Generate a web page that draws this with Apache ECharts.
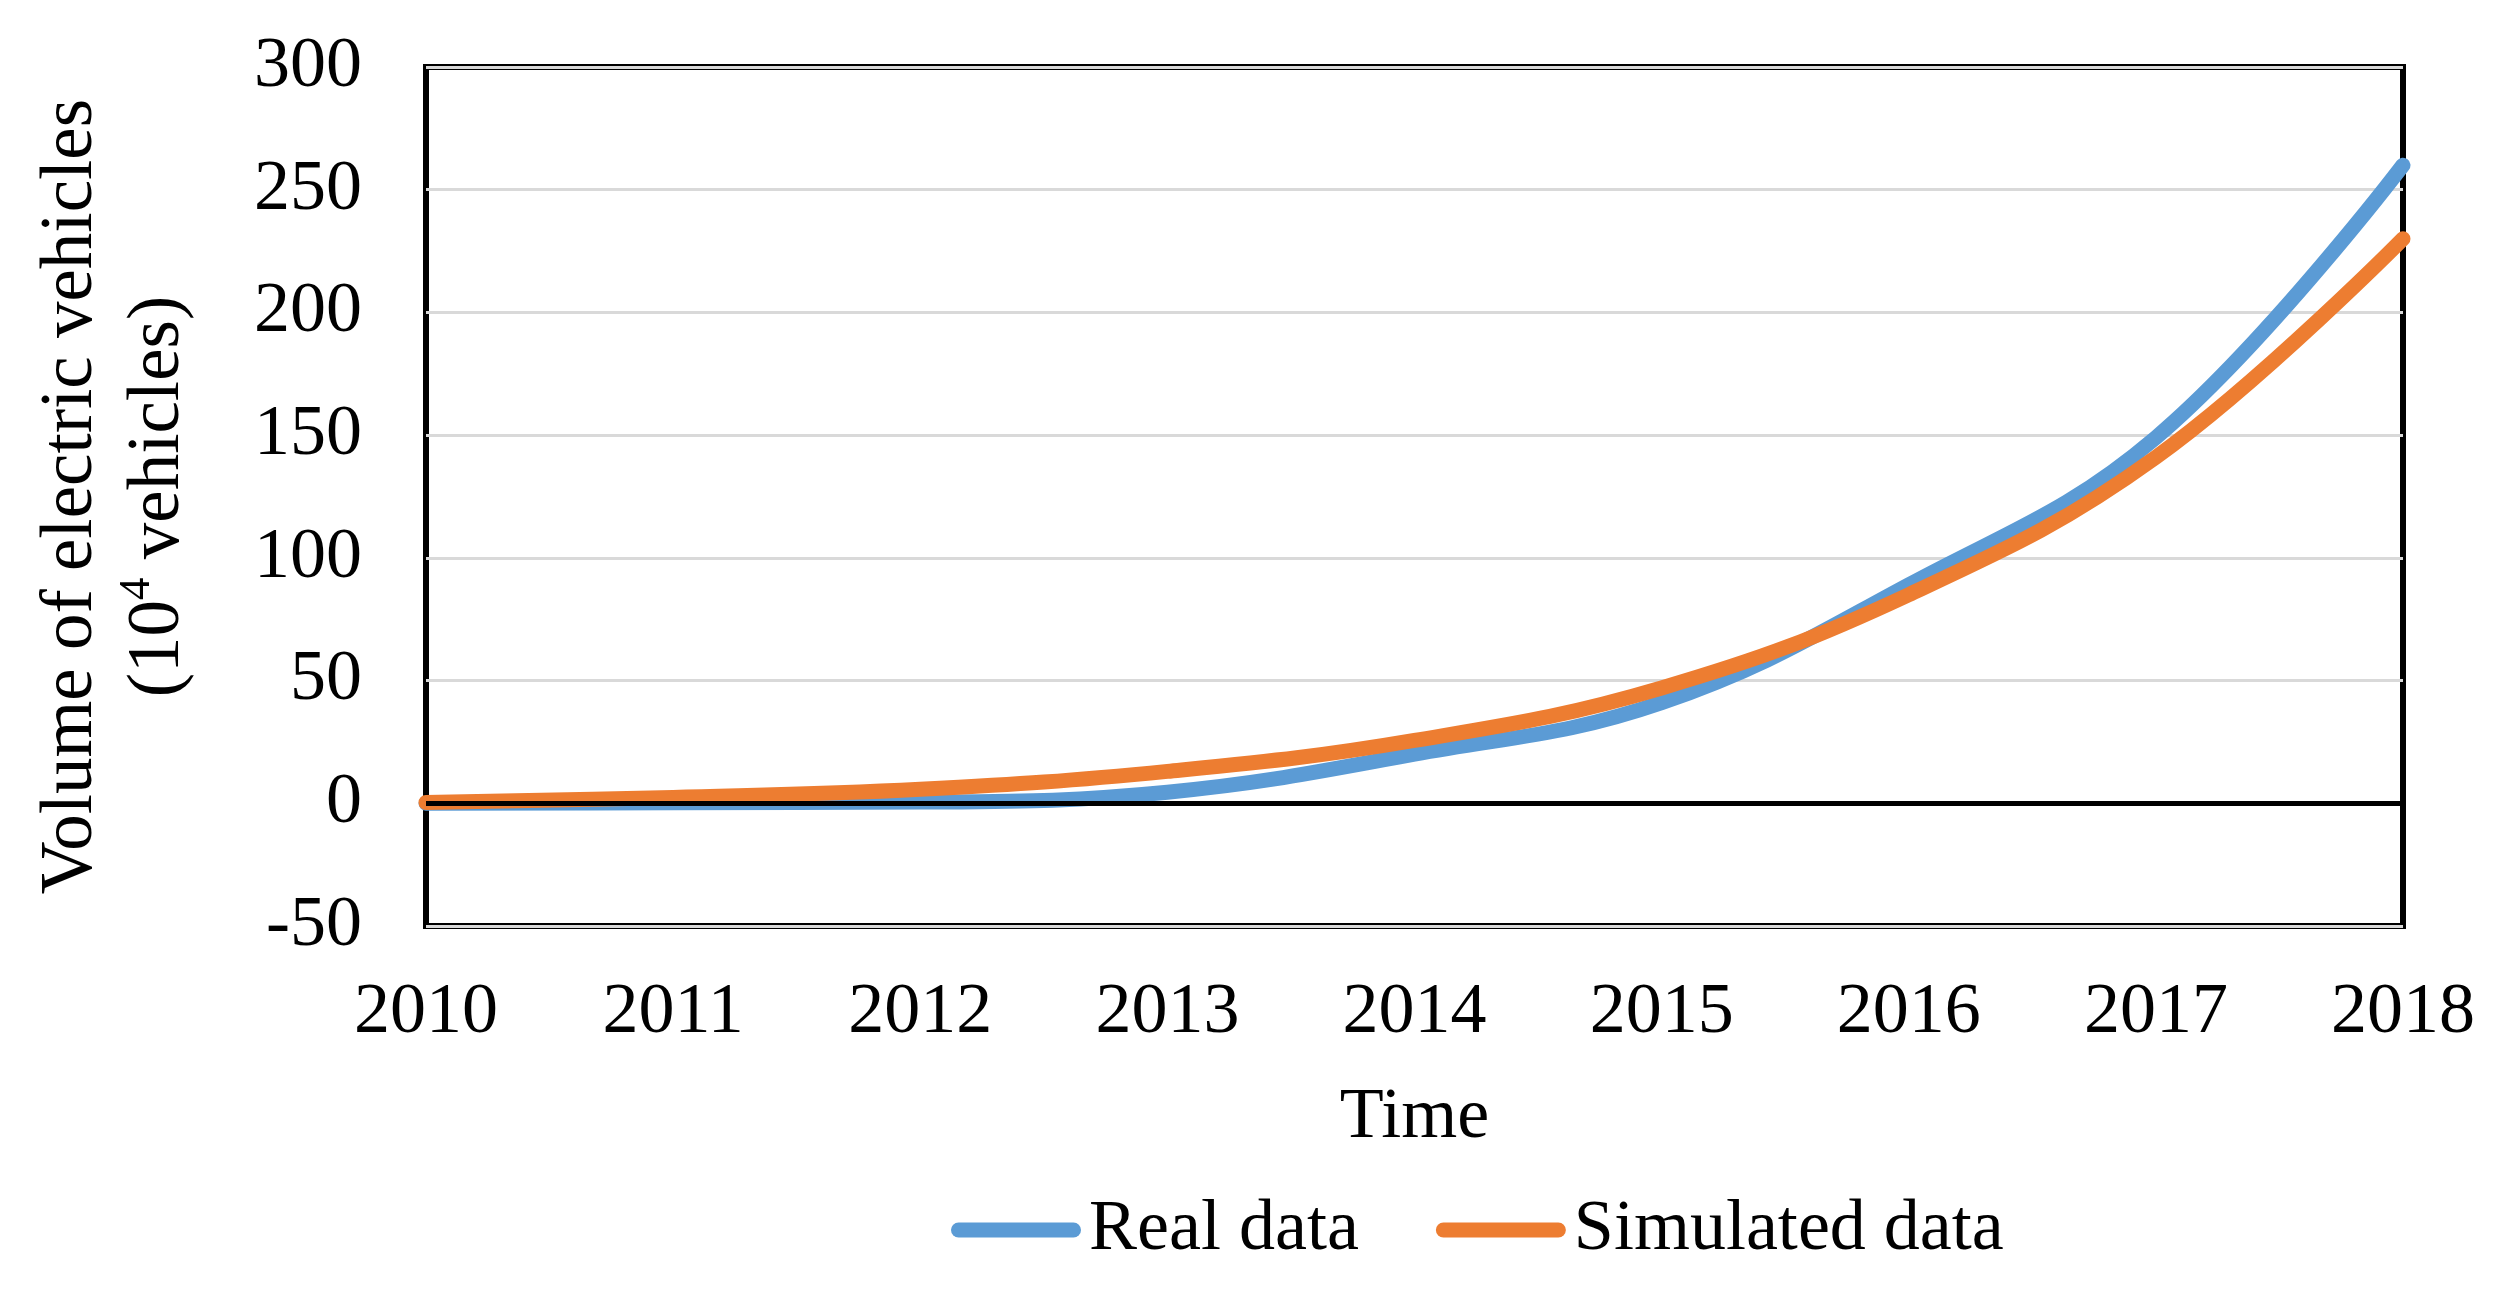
<!DOCTYPE html>
<html>
<head>
<meta charset="utf-8">
<script src="https://cdn.jsdelivr.net/npm/echarts@6/dist/echarts.min.js"></script>
<style>
html,body{margin:0;padding:0;background:#fff;}
#chart{width:2513px;height:1304px;}
</style>
</head>
<body>
<div id="chart"></div>
<script>
const years = ['2010','2011','2012','2013','2014','2015','2016','2017','2018'];
const realData = [0, 0.2, 0.5, 4.5, 20, 41, 89, 149, 260];
const simulatedData = [0.3, 2.4, 5.7, 13, 25.6, 47, 85, 141, 230];
const yTicks = {min: -50, max: 300, interval: 50};

const FONT = '"Liberation Serif", "Times New Roman", serif';
const chart = echarts.init(document.getElementById('chart'));
const capsule = 'path://M7.5,0 L122.5,0 A7.5,7.5 0 0 1 122.5,15 L7.5,15 A7.5,7.5 0 0 1 7.5,0 Z';

chart.setOption({
  backgroundColor: '#ffffff',
  animation: false,
  grid: {
    left: 426, right: 110, top: 67, bottom: 378,
    show: true, borderColor: '#000', borderWidth: 6, backgroundColor: 'transparent'
  },
  legend: {
    left: 946, top: 1189,
    itemWidth: 130, itemHeight: 15, itemGap: 77,
    textStyle: {fontFamily: FONT, fontSize: 72, color: '#000', padding: [0,0,0,3]},
    data: [
      {name: 'Real data', icon: capsule},
      {name: 'Simulated data', icon: capsule}
    ]
  },
  xAxis: {
    type: 'category',
    data: years,
    boundaryGap: false,
    name: 'Time',
    nameLocation: 'middle',
    nameGap: 156,
    nameTextStyle: {fontFamily: FONT, fontSize: 72, color: '#000'},
    axisLine: {show: false},
    axisTick: {show: false},
    axisLabel: {fontFamily: FONT, fontSize: 72, color: '#000', margin: 51},
    splitLine: {show: false}
  },
  yAxis: {
    type: 'value',
    min: yTicks.min, max: yTicks.max, interval: yTicks.interval,
    name: '{a|Volume of electric vehicles}\n{a|(10}{s|4}{a| vehicles)}',
    nameLocation: 'middle',
    nameGap: 224,
    nameTextStyle: {
      fontFamily: FONT, color: '#000', fontSize: 73, lineHeight: 87,
      rich: {
        a: {fontFamily: FONT, fontSize: 73, lineHeight: 87, color: '#000'},
        s: {fontFamily: FONT, fontSize: 45, lineHeight: 45, color: '#000', verticalAlign: 'top'}
      }
    },
    axisLine: {show: false},
    axisTick: {show: false},
    axisLabel: {fontFamily: FONT, fontSize: 72, color: '#000', margin: 64},
    splitLine: {show: true, lineStyle: {color: '#d9d9d9', width: 3}}
  },
  series: [
    {
      name: 'zero', type: 'line', data: [], z: 1, silent: true,
      markLine: {
        silent: true, symbol: 'none', label: {show: false},
        lineStyle: {color: '#000', width: 5, type: 'solid'},
        data: [{yAxis: 0}]
      }
    },
    {
      name: 'Real data', type: 'line', data: realData, z: 3,
      smooth: 0.4, showSymbol: false, symbol: 'none', clip: false,
      color: '#5B9BD5',
      lineStyle: {color: '#5B9BD5', width: 15, cap: 'round', join: 'round'}
    },
    {
      name: 'Simulated data', type: 'line', data: simulatedData, z: 4,
      smooth: 0.4, showSymbol: false, symbol: 'none', clip: false,
      color: '#ED7D31',
      lineStyle: {color: '#ED7D31', width: 15, cap: 'round', join: 'round'}
    }
  ]
});
</script>
</body>
</html>
